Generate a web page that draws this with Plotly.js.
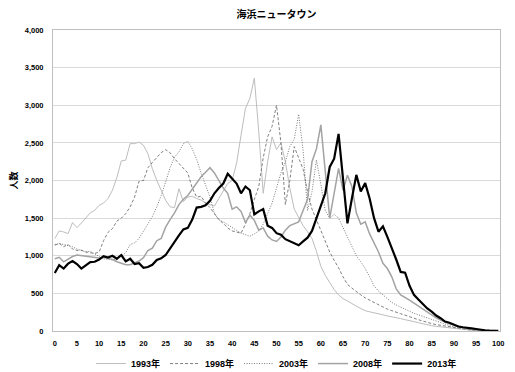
<!DOCTYPE html>
<html>
<head>
<meta charset="utf-8">
<script src="https://cdn.plot.ly/plotly-3.0.1.min.js"></script>
<style>html,body{margin:0;padding:0;background:#fff;}#chart{width:515px;height:372px;}</style>
</head>
<body>
<div id="chart"></div>
<script>
const chartTitle = "海浜ニュータウン";
const yTitle = "人数";
const seriesNames = ["1993年", "1998年", "2003年", "2008年", "2013年"];
const ages = [0,1,2,3,4,5,6,7,8,9,10,11,12,13,14,15,16,17,18,19,20,21,22,23,24,25,26,27,28,29,30,31,32,33,34,35,36,37,38,39,40,41,42,43,44,45,46,47,48,49,50,51,52,53,54,55,56,57,58,59,60,61,62,63,64,65,66,67,68,69,70,71,72,73,74,75,76,77,78,79,80,81,82,83,84,85,86,87,88,89,90,91,92,93,94,95,96,97,98,99,100];

const y1993 = [1230,1330,1316,1294,1440,1373,1435,1500,1570,1604,1670,1700,1760,1870,2040,2260,2270,2490,2490,2510,2467,2357,2157,2002,1870,1737,1650,1640,1890,1720,1780,1790,1760,1740,1700,1680,1660,1760,1860,1960,2000,2230,2600,2960,3090,3360,2650,1830,2250,2580,2410,2500,2250,1900,1620,1500,1400,1320,1230,1060,860,740,640,550,480,430,400,360,330,300,270,255,245,235,215,200,190,178,165,150,140,125,110,95,80,70,62,55,45,38,30,25,20,15,10,8,5,3,2,1,1];

const y1998 = [1140,1165,1120,1150,1090,1070,1075,1050,1040,1030,1050,1200,1310,1360,1460,1500,1560,1650,1780,1990,2000,2170,2240,2300,2370,2410,2370,2290,2230,2170,2100,1900,1780,1790,1700,1640,1560,1480,1430,1370,1330,1310,1300,1420,1560,1750,1920,2300,2580,2720,3000,2500,1680,2000,2450,2300,2150,1850,1620,1480,1330,1190,1050,940,840,720,620,570,520,480,440,410,380,340,310,290,270,245,230,210,195,170,150,130,112,98,85,75,63,55,45,36,28,20,14,10,7,4,3,1,1];

const y2003 = [1150,1160,1150,1140,1120,1090,1070,1050,1060,1020,990,960,950,945,955,1000,1040,1150,1170,1230,1330,1420,1520,1650,1800,1980,2170,2310,2380,2490,2520,2420,2280,2100,1950,1780,1560,1480,1450,1410,1370,1340,1300,1280,1260,1290,1330,1420,1560,1700,1900,2100,2250,2450,2550,2880,2400,1600,1850,2270,1950,1600,1500,1550,1500,1380,1260,1130,1000,920,830,720,600,530,480,430,380,345,315,285,260,235,215,195,170,148,125,108,90,72,58,46,36,26,20,14,9,6,4,2,1];

const y2008 = [960,980,920,960,990,1010,1000,1000,990,975,970,980,970,950,920,900,880,880,900,930,975,1070,1100,1200,1230,1380,1480,1570,1680,1750,1800,1880,1960,2050,2110,2170,2100,1990,1900,1830,1620,1650,1590,1440,1540,1470,1340,1370,1260,1210,1190,1250,1340,1400,1420,1450,1600,1750,2250,2420,2740,2100,1500,1830,2160,1870,2070,1920,1570,1420,1450,1290,1170,1050,900,830,720,560,480,450,410,370,330,290,250,215,175,145,115,95,80,62,50,38,28,20,14,9,5,3,2];

const y2013 = [770,875,830,895,930,890,830,875,915,920,950,995,975,1000,960,1010,925,960,890,900,840,850,880,945,966,1010,1100,1195,1270,1350,1370,1480,1640,1650,1670,1730,1830,1900,1960,2090,2030,1960,1830,1920,1870,1550,1590,1620,1400,1370,1300,1280,1220,1190,1160,1140,1190,1240,1330,1500,1680,1830,2180,2290,2620,2050,1430,1760,2075,1855,1965,1760,1500,1320,1390,1250,1110,950,785,775,600,480,420,360,300,258,205,170,125,110,80,60,50,38,35,27,15,10,5,3,2];

const allSeries = [y1993, y1998, y2003, y2008, y2013];
const lineStyles = [
  {color: '#bdbdbd', width: 1, dash: 'solid'},
  {color: '#7f7f7f', width: 1, dash: '3px,2px'},
  {color: '#7a7a7a', width: 1, dash: '1px,1.5px'},
  {color: '#a3a3a3', width: 1.5, dash: 'solid'},
  {color: '#000000', width: 2.2, dash: 'solid'}
];

const traces = allSeries.map((ys, i) => ({
  x: ages, y: ys, name: seriesNames[i], type: 'scatter', mode: 'lines',
  line: lineStyles[i], hoverinfo: 'skip'
}));

const tickFont = {family: 'Liberation Sans, Arial, sans-serif', size: 7.5, color: '#000000', weight: 'bold'};

const layout = {
  width: 515, height: 372,
  margin: {l: 53, r: 15, t: 30, b: 41, autoexpand: false},
  paper_bgcolor: '#fff', plot_bgcolor: '#fff',
  title: {text: chartTitle, x: 0.5, xref: 'paper', xanchor: 'center', y: 0.962, yanchor: 'middle',
    font: {family: 'Noto Sans CJK JP, sans-serif', size: 10, color: '#000', weight: 'bold'}},
  showlegend: true,
  legend: {orientation: 'h', x: 0.5, xanchor: 'center', y: -0.06, yanchor: 'top',
    font: {family: 'Liberation Sans, Noto Sans CJK JP, sans-serif', size: 9, color: '#000', weight: 'bold'},
    itemwidth: 30, tracegroupgap: 0, bgcolor: 'rgba(0,0,0,0)'},
  xaxis: {range: [-0.4, 100.4], tick0: 0, dtick: 5, showgrid: false, zeroline: false,
    showline: true, linecolor: '#bfbfbf', linewidth: 1, mirror: true,
    ticks: 'outside', ticklen: 5, tickcolor: 'rgba(0,0,0,0)', tickfont: tickFont},
  yaxis: {range: [0, 4000], dtick: 500, tickformat: ',d', showgrid: true, gridcolor: '#d9d9d9', gridwidth: 1,
    zeroline: false, showline: true, linecolor: '#bfbfbf', linewidth: 1, mirror: true,
    ticks: 'outside', ticklen: 7, tickcolor: 'rgba(0,0,0,0)', tickfont: tickFont,
    title: {text: yTitle, standoff: 5, font: {family: 'Noto Sans CJK JP, sans-serif', size: 9, color: '#000', weight: 'bold'}}}
};

Plotly.newPlot('chart', traces, layout, {displayModeBar: false, staticPlot: true});
</script>
</body>
</html>
